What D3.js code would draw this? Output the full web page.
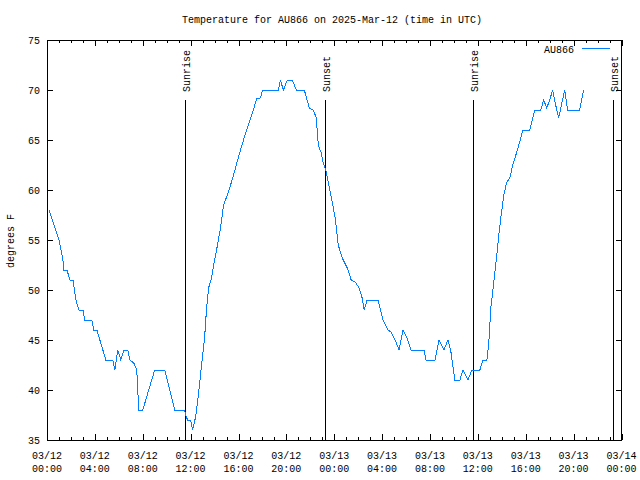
<!DOCTYPE html>
<html>
<head>
<meta charset="utf-8">
<script src="https://cdn.jsdelivr.net/npm/d3@7"></script>
<style>
  html, body { margin: 0; padding: 0; background: #fff; }
  svg { display: block; }
  text { font-family: "Liberation Mono", "DejaVu Sans Mono", monospace; font-size: 10px; fill: #000; }
</style>
</head>
<body>
<svg id="chart" width="640" height="480"></svg>
<script>
// ---- data ----
const title = "Temperature for AU866 on 2025-Mar-12 (time in UTC)";
const seriesName = "AU866";
const yLabel = "degrees F";
const times = [
  "2025-03-12 00:10","2025-03-12 01:00","2025-03-12 01:20","2025-03-12 01:25","2025-03-12 01:40",
  "2025-03-12 01:55","2025-03-12 02:10","2025-03-12 02:25","2025-03-12 02:40","2025-03-12 03:00",
  "2025-03-12 03:10","2025-03-12 03:45","2025-03-12 03:55","2025-03-12 04:10","2025-03-12 04:25",
  "2025-03-12 04:55","2025-03-12 05:30","2025-03-12 05:40","2025-03-12 05:55","2025-03-12 06:10",
  "2025-03-12 06:25","2025-03-12 06:45","2025-03-12 06:55","2025-03-12 07:15","2025-03-12 07:30",
  "2025-03-12 07:40","2025-03-12 08:00","2025-03-12 09:00","2025-03-12 09:50","2025-03-12 10:40",
  "2025-03-12 11:30","2025-03-12 11:35","2025-03-12 11:45","2025-03-12 12:00","2025-03-12 12:10",
  "2025-03-12 12:25","2025-03-12 12:40","2025-03-12 12:55","2025-03-12 13:10","2025-03-12 13:20",
  "2025-03-12 13:30","2025-03-12 13:45","2025-03-12 13:55","2025-03-12 14:10","2025-03-12 14:30",
  "2025-03-12 14:45","2025-03-12 15:10","2025-03-12 15:35","2025-03-12 16:00","2025-03-12 16:25",
  "2025-03-12 16:50","2025-03-12 17:15","2025-03-12 17:30","2025-03-12 17:50","2025-03-12 18:00",
  "2025-03-12 19:20","2025-03-12 19:30","2025-03-12 19:45","2025-03-12 20:05","2025-03-12 20:30",
  "2025-03-12 20:50","2025-03-12 21:30","2025-03-12 21:55","2025-03-12 22:15","2025-03-12 22:30",
  "2025-03-12 22:40","2025-03-12 22:55","2025-03-12 23:05","2025-03-12 23:20","2025-03-12 23:40",
  "2025-03-13 00:05","2025-03-13 00:20","2025-03-13 00:40","2025-03-13 01:05","2025-03-13 01:25",
  "2025-03-13 01:45","2025-03-13 02:05","2025-03-13 02:20","2025-03-13 02:30","2025-03-13 02:45",
  "2025-03-13 03:40","2025-03-13 04:05","2025-03-13 04:30","2025-03-13 04:45","2025-03-13 05:05",
  "2025-03-13 05:25","2025-03-13 05:45","2025-03-13 06:05","2025-03-13 06:25","2025-03-13 07:30",
  "2025-03-13 07:40","2025-03-13 08:25","2025-03-13 08:45","2025-03-13 09:10","2025-03-13 09:30",
  "2025-03-13 09:45","2025-03-13 10:05","2025-03-13 10:30","2025-03-13 10:45","2025-03-13 11:10",
  "2025-03-13 11:30","2025-03-13 12:10","2025-03-13 12:25","2025-03-13 12:45","2025-03-13 12:55",
  "2025-03-13 13:05","2025-03-13 13:20","2025-03-13 13:35","2025-03-13 13:45","2025-03-13 13:55",
  "2025-03-13 14:10","2025-03-13 14:25","2025-03-13 14:40","2025-03-13 14:55","2025-03-13 15:15",
  "2025-03-13 15:35","2025-03-13 15:45","2025-03-13 16:20","2025-03-13 16:45","2025-03-13 17:15",
  "2025-03-13 17:30","2025-03-13 17:45","2025-03-13 18:00","2025-03-13 18:15","2025-03-13 18:30",
  "2025-03-13 18:45","2025-03-13 19:15","2025-03-13 19:30","2025-03-13 20:30","2025-03-13 20:50"
];
const temps = [
  58, 55, 53, 52, 52,
  51, 51, 49, 48, 48,
  47, 47, 46, 46, 45,
  43, 43, 42, 44, 43,
  44, 44, 43, 42.7, 42,
  38, 38, 42, 42, 38,
  38, 37.5, 37, 37, 36,
  37.3, 39.7, 42.5, 45.2, 48.2,
  50.2, 51.2, 52.5, 54, 56.2,
  58.5, 59.8, 61.5, 63.3, 65,
  66.5, 68, 69.1, 69.2, 70,
  70, 71, 70, 71, 71,
  70, 70, 68.2, 68, 67.2,
  64.5, 63.7, 62.7, 61.8, 59.8,
  57.2, 54.5, 53.2, 52.2, 51,
  50.8, 50.2, 49.2, 48, 49,
  49, 47, 46, 45.8, 45,
  44, 46, 45.2, 44, 44,
  43, 43, 45, 44, 45,
  43.8, 41, 41, 42, 41,
  42, 42, 43, 43, 44.8,
  48.2, 50.8, 53.5, 55.5, 57.2,
  59.5, 60.8, 61.2, 62.5, 63.8,
  65.2, 66, 66, 68, 68,
  69, 68.2, 69, 70, 68.5,
  67.2, 70, 68, 68, 70
];
const sunLabels = ["Sunrise", "Sunset", "Sunrise", "Sunset"];
const sunTimes = ["2025-03-12 11:32", "2025-03-12 23:15", "2025-03-13 11:34", "2025-03-13 23:19"];
const xDomain = ["2025-03-12 00:00", "2025-03-14 00:00"];
const yTicks = [35, 40, 45, 50, 55, 60, 65, 70, 75];

// ---- chart ----
const parse = d3.utcParse("%Y-%m-%d %H:%M");
const data = times.map((t, i) => ({ t: parse(t), v: temps[i] }));

const svg = d3.select("#chart");
const mLeft = 47, mRight = 621.5, mTop = 40, mBottom = 440;

const x = d3.scaleUtc().domain(xDomain.map(parse)).range([mLeft, mRight]);
const y = d3.scaleLinear().domain([35, 75]).range([mBottom, mTop]);

const majorX = d3.utcHour.every(4).range(x.domain()[0], d3.utcMinute.offset(x.domain()[1], 1));
const minorX = d3.utcHour.every(1).range(x.domain()[0], d3.utcMinute.offset(x.domain()[1], 1));
const fmtDate = d3.utcFormat("%m/%d");
const fmtTime = d3.utcFormat("%H:%M");

// Title
svg.append("text").attr("x", 332).attr("y", 23).attr("text-anchor", "middle").text(title);

// Y label
svg.append("text")
  .attr("transform", "translate(14,241) rotate(-90)")
  .attr("text-anchor", "middle")
  .text(yLabel);

const g = svg.append("g").attr("shape-rendering", "crispEdges");

// Bottom / top axes (ticks inward)
g.append("g").attr("transform", `translate(0,${mBottom})`)
  .call(d3.axisBottom(x).tickValues(majorX).tickSize(-6).tickFormat(""));
g.append("g").attr("transform", `translate(0,${mBottom})`)
  .call(d3.axisBottom(x).tickValues(minorX).tickSize(-3).tickFormat(""));
g.append("g").attr("transform", `translate(0,${mTop})`)
  .call(d3.axisTop(x).tickValues(majorX).tickSize(-6).tickFormat(""));
g.append("g").attr("transform", `translate(0,${mTop})`)
  .call(d3.axisTop(x).tickValues(minorX).tickSize(-3).tickFormat(""));

// Left / right axes
g.append("g").attr("transform", `translate(${mLeft},0)`)
  .call(d3.axisLeft(y).tickValues(yTicks).tickSize(-6).tickFormat(""));
g.append("g").attr("transform", `translate(${mRight},0)`)
  .call(d3.axisRight(y).tickValues(yTicks).tickSize(-6).tickFormat(""));

g.selectAll(".domain").remove();
g.selectAll(".tick line").attr("stroke", "#000");

// Frame
g.append("rect")
  .attr("x", mLeft).attr("y", mTop)
  .attr("width", mRight - mLeft).attr("height", mBottom - mTop)
  .attr("fill", "none").attr("stroke", "#000");

// X tick labels (two lines)
const xl = svg.append("g");
majorX.forEach(d => {
  const t = xl.append("text").attr("text-anchor", "middle");
  t.append("tspan").attr("x", x(d)).attr("y", 459).text(fmtDate(d));
  t.append("tspan").attr("x", x(d)).attr("y", 472).text(fmtTime(d));
});

// Y tick labels
yTicks.forEach(v => {
  svg.append("text").attr("x", 40).attr("y", y(v) + 4).attr("text-anchor", "end").text(v);
});

// Sunrise / sunset lines
sunTimes.forEach((s, i) => {
  const xv = Math.round(x(parse(s))) + 0.5;
  g.append("line").attr("x1", xv).attr("x2", xv).attr("y1", 100).attr("y2", mBottom)
    .attr("stroke", "#000").attr("stroke-width", 1);
  svg.append("text")
    .attr("transform", `translate(${xv + 4},92) rotate(-90)`)
    .attr("text-anchor", "start")
    .text(sunLabels[i]);
});

// Data line
const line = d3.line().x(d => x(d.t)).y(d => y(d.v));
svg.append("path").datum(data)
  .attr("d", line)
  .attr("fill", "none")
  .attr("stroke", "#0080ff")
  .attr("stroke-width", 1)
  .attr("shape-rendering", "crispEdges");

// Legend
svg.append("text").attr("x", 574).attr("y", 53).attr("text-anchor", "end").text(seriesName);
svg.append("line").attr("x1", 582).attr("x2", 610).attr("y1", 48.5).attr("y2", 48.5)
  .attr("stroke", "#0080ff").attr("stroke-width", 1);
</script>
</body>
</html>
